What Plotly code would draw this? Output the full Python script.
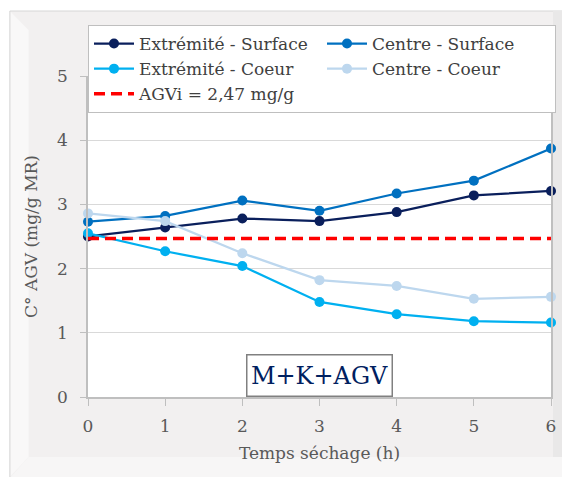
import plotly.graph_objects as go

# ---- data ----
temps = [0, 1, 2, 3, 4, 5, 6]
extremite_surface = [2.50, 2.64, 2.78, 2.74, 2.88, 3.14, 3.21]
centre_surface = [2.73, 2.82, 3.06, 2.90, 3.17, 3.37, 3.87]
extremite_coeur = [2.55, 2.27, 2.04, 1.48, 1.29, 1.18, 1.16]
centre_coeur = [2.86, 2.74, 2.24, 1.82, 1.73, 1.53, 1.56]
agvi_x = [0, 6]
agvi_value = 2.47
series_names = ["Extrémité - Surface", "Centre - Surface", "Extrémité - Coeur", "Centre - Coeur"]
agvi_name = "AGVi = 2,47 mg/g"
x_title = "Temps séchage (h)"
y_title = "C° AGV (mg/g MR)"
label_text = "M+K+AGV"

# ---- style ----
W, H = 562, 477
L, R, T, B = 88, 556, 76, 397  # plot area in pixels
FONT = "DejaVu Serif"
colors = ["#0a1f5c", "#0070c0", "#00b0f0", "#bdd7ee"]


def px(xp):
    return (xp - L) / (R - L)


def py(yp):
    return (B - yp) / (B - T)


fig = go.Figure()
series = [extremite_surface, centre_surface, extremite_coeur, centre_coeur]
for name, vals, c in zip(series_names, series, colors):
    fig.add_trace(go.Scatter(
        x=temps, y=vals, name=name, mode="lines+markers",
        line=dict(color=c, width=2.25),
        marker=dict(color=c, size=10),
        cliponaxis=False,
    ))

fig.add_trace(go.Scatter(
    x=agvi_x, y=[agvi_value] * len(agvi_x), name=agvi_name, mode="lines",
    line=dict(color="#ff0000", width=3.5, dash="11px,6px"),
    cliponaxis=False,
))

shapes = [
    # outer frame
    dict(type="rect", xref="paper", yref="paper", layer="below",
         x0=px(9), x1=px(575), y0=py(11), y1=py(490),
         fillcolor="#f2f0f0", line=dict(color="#d6d6d6", width=1)),
    # left bevel
    dict(type="path", xref="paper", yref="paper", layer="below",
         path=f"M {px(10)},{py(12)} L {px(28)},{py(30)} L {px(28)},{py(457)} L {px(10)},{py(476)} Z",
         fillcolor="#f9f8f8", line=dict(width=0)),
    # bottom bevel
    dict(type="path", xref="paper", yref="paper", layer="below",
         path=f"M {px(10)},{py(477)} L {px(28)},{py(457)} L {px(575)},{py(457)} L {px(575)},{py(477)} Z",
         fillcolor="#f7f6f6", line=dict(width=0)),
    # right shadow
    dict(type="rect", xref="paper", yref="paper", layer="below",
         x0=px(558), x1=px(575), y0=py(11), y1=py(457),
         fillcolor="#e9e8e8", line=dict(width=0)),
    # plot area
    dict(type="rect", xref="paper", yref="paper", layer="below",
         x0=0, x1=1, y0=0, y1=1, fillcolor="white", line=dict(width=0)),
]

fig.update_layout(
    width=W, height=H,
    margin=dict(l=L, r=W - R, t=T, b=H - B, pad=0),
    paper_bgcolor="white", plot_bgcolor="white",
    font=dict(family=FONT, size=16, color="#595959"),
    showlegend=True,
    legend=dict(
        orientation="h", x=0, xanchor="left", y=py(25), yanchor="top",
        bgcolor="white", bordercolor="#bfbfbf", borderwidth=1,
        font=dict(family=FONT, size=17, color="#404040"),
        entrywidth=178, entrywidthmode="pixels",
        itemwidth=40, traceorder="normal",
    ),
    xaxis=dict(
        range=[0, 6], tickvals=temps, showgrid=False, zeroline=False,
        showline=True, linecolor="#bfbfbf", linewidth=1.5,
        ticks="outside", ticklen=7, tickcolor="#bfbfbf", ticklabelstandoff=6,
        tickfont=dict(family=FONT, size=17, color="#595959"),
        title=dict(text=x_title, font=dict(family=FONT, size=17, color="#595959"), standoff=12),
    ),
    yaxis=dict(
        range=[0, 5], tickvals=[0, 1, 2, 3, 4, 5], showgrid=True, gridcolor="#d9d9d9",
        zeroline=False, showline=True, linecolor="#bfbfbf", linewidth=1.5, mirror=True,
        ticks="outside", ticklen=6, tickcolor="#bfbfbf", ticklabelstandoff=9,
        tickfont=dict(family=FONT, size=17, color="#595959"),
        title=dict(text=y_title, font=dict(family=FONT, size=17, color="#595959"), standoff=15),
    ),
    shapes=shapes,
    annotations=[dict(
        x=3, y=0.33, xref="x", yref="y", text=label_text, showarrow=False,
        font=dict(family=FONT, size=24, color="#002060"),
        bordercolor="#808080", borderwidth=1.5, borderpad=3, bgcolor="white",
        width=138, height=34,
    )],
)

fig.write_html("out.html", config={"displayModeBar": False},
               post_script="document.body.style.margin='0';")
